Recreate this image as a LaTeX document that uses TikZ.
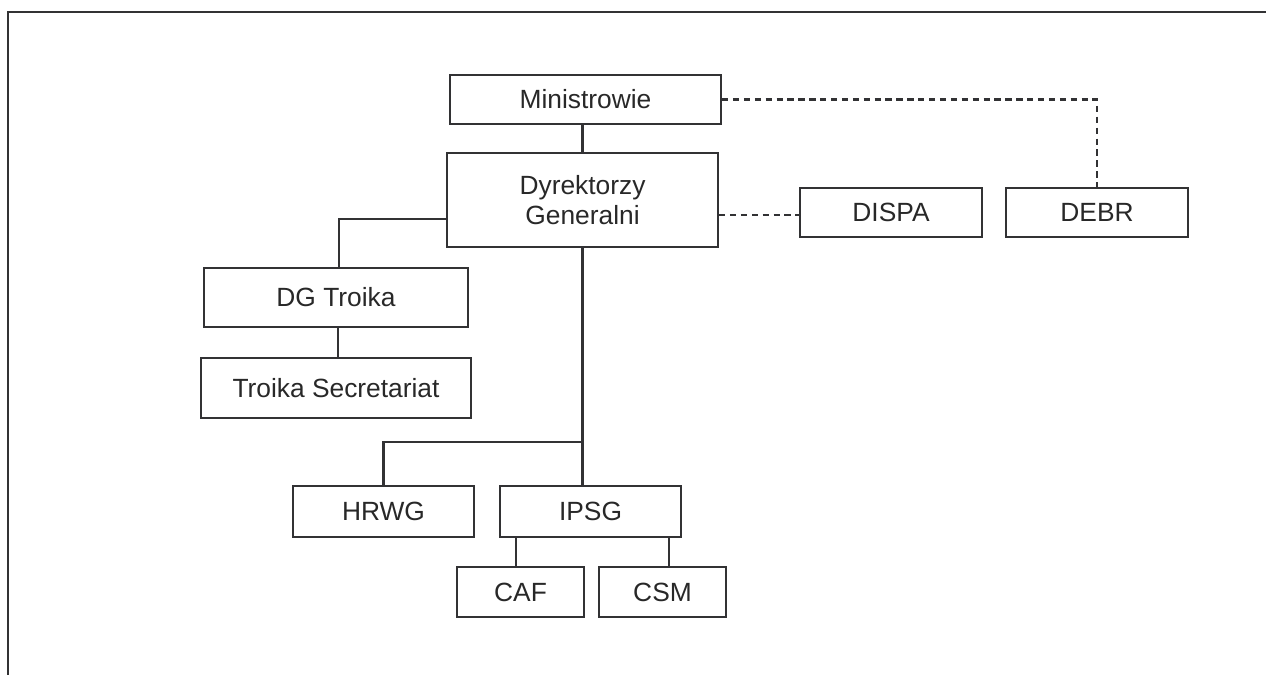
\documentclass[tikz,border=0pt]{standalone}
\usepackage{fontspec}
\setmainfont{Liberation Sans}
\usetikzlibrary{positioning}
\definecolor{cline}{RGB}{50,50,52}
\definecolor{ctext}{RGB}{40,40,40}

\begin{document}
\begin{tikzpicture}[
  x=0.02cm,y=-0.02cm,
  box/.style={draw=cline,line width=1.25pt,inner sep=0pt,align=center,text=ctext,
    font=\fontsize{15}{17}\selectfont},
  wide/.style={box,minimum width=5.42cm,minimum height=0.98cm},
  side/.style={box,minimum width=3.64cm,minimum height=0.98cm},
  small/.style={box,minimum width=2.54cm,minimum height=1.0cm},
  link/.style={cline,line width=1.25pt},
  dlink/.style={cline,line width=1.25pt,dash pattern=on 3.6pt off 2.6pt},
]
\useasboundingbox (0,0) rectangle (1266,675);

% frame (top and left only)
\draw[cline,line width=1.6pt] (8,675) -- (8,12) -- (1266,12);

% ============================ top levels ============================
\node[wide] (min) at (585.5,99.5) {Ministrowie};
\node[wide,minimum height=1.88cm] (dg) at (582.5,200) {Dyrektorzy\\Generalni};
\node[side] (dispa) at (891,212.5) {DISPA};
\node[side] (debr) at (1097,212.5) {DEBR};

% ============================ troika branch ============================
\node[box,minimum width=5.28cm,minimum height=1.18cm] (troika) at (336,297.5) {DG Troika};
\node[box,minimum width=5.40cm,minimum height=1.20cm] (sec) at (336,388) {Troika Secretariat};

% ============================ working groups ============================
\node[side,minimum width=3.62cm,minimum height=1.02cm] (hrwg) at (383.5,511.5) {HRWG};
\node[side,minimum width=3.62cm,minimum height=1.02cm] (ipsg) at (590.5,511.5) {IPSG};
\node[small] (caf) at (520.5,592) {CAF};
\node[small] (csm) at (662.5,592) {CSM};

% solid links
\draw[link] (dg.north) -- (dg.north |- min.south);
\draw[link] ([yshift=-0.38cm]dg.west) -| ([xshift=0.06cm]troika.north);
\draw[link] ([xshift=0.04cm]sec.north) -- ([xshift=0.04cm]sec.north |- troika.south);
\coordinate (hub) at (583,442);
\draw[link] (dg.south) -- (dg.south |- ipsg.north);
\draw[link] (hub) -| (hrwg.north);
\draw[link] ([xshift=-0.09cm]caf.north) -- ([xshift=-0.09cm]caf.north |- ipsg.south);
\draw[link] ([xshift=0.13cm]csm.north) -- ([xshift=0.13cm]csm.north |- ipsg.south);

% dashed links
\draw[dlink] (min.east) -| (debr.north);
\draw[dlink] ([yshift=-0.05cm]dispa.west -| dg.east) -- ([yshift=-0.05cm]dispa.west);

\end{tikzpicture}
\end{document}
